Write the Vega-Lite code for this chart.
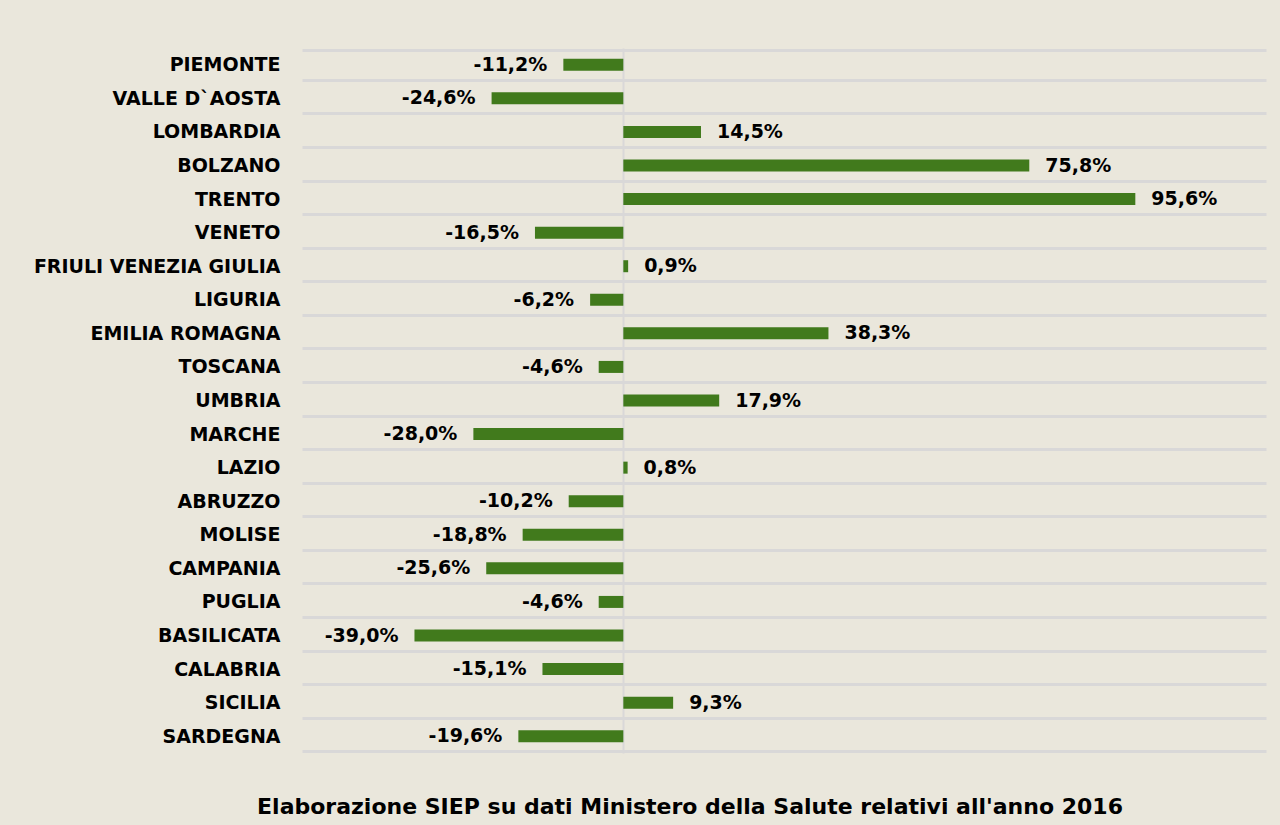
{
  "$schema": "https://vega.github.io/schema/vega-lite/v6.json",
  "width": 964,
  "height": 705,
  "autosize": {"type": "none"},
  "padding": {"left": 302, "top": 48, "right": 14, "bottom": 72},
  "background": "#EAE7DC",
  "config": {
    "view": {"stroke": null},
    "font": "DejaVu Sans",
    "locale": {"number": {"decimal": ",", "thousands": ".", "grouping": [3], "currency": ["", "%"], "minus": "-"}}
  },
  "title": {
    "text": "Elaborazione SIEP su dati Ministero della Salute relativi all'anno 2016",
    "orient": "bottom",
    "anchor": "middle",
    "dx": -94,
    "offset": 44,
    "font": "DejaVu Sans",
    "fontSize": 22,
    "fontWeight": "bold",
    "color": "#000000"
  },
  "data": {
    "values": [
      {"region": "PIEMONTE", "value": -11.2},
      {"region": "VALLE D`AOSTA", "value": -24.6},
      {"region": "LOMBARDIA", "value": 14.5},
      {"region": "BOLZANO", "value": 75.8},
      {"region": "TRENTO", "value": 95.6},
      {"region": "VENETO", "value": -16.5},
      {"region": "FRIULI VENEZIA GIULIA", "value": 0.9},
      {"region": "LIGURIA", "value": -6.2},
      {"region": "EMILIA ROMAGNA", "value": 38.3},
      {"region": "TOSCANA", "value": -4.6},
      {"region": "UMBRIA", "value": 17.9},
      {"region": "MARCHE", "value": -28.0},
      {"region": "LAZIO", "value": 0.8},
      {"region": "ABRUZZO", "value": -10.2},
      {"region": "MOLISE", "value": -18.8},
      {"region": "CAMPANIA", "value": -25.6},
      {"region": "PUGLIA", "value": -4.6},
      {"region": "BASILICATA", "value": -39.0},
      {"region": "CALABRIA", "value": -15.1},
      {"region": "SICILIA", "value": 9.3},
      {"region": "SARDEGNA", "value": -19.6}
    ]
  },
  "encoding": {
    "y": {
      "field": "region",
      "type": "nominal",
      "sort": null,
      "title": null,
      "axis": {
        "grid": true,
        "tickBand": "extent",
        "gridColor": "#D9D8D8",
        "gridWidth": 3,
        "ticks": false,
        "domain": false,
        "labelFont": "DejaVu Sans",
        "labelFontSize": 19,
        "labelFontWeight": "bold",
        "labelColor": "#000000",
        "labelPadding": 22,
        "labelLimit": 400
      }
    }
  },
  "layer": [
    {
      "mark": {"type": "bar", "color": "#417A1C", "height": 12},
      "encoding": {
        "x": {
          "field": "value",
          "type": "quantitative",
          "scale": {"domain": [-60, 120], "nice": false, "zero": false},
          "title": null,
          "axis": {
            "values": [0],
            "grid": true,
            "gridColor": "#D9D8D8",
            "gridWidth": 2,
            "labels": false,
            "ticks": false,
            "domain": false
          }
        }
      }
    },
    {
      "transform": [{"filter": "datum.value < 0"}],
      "mark": {"type": "text", "align": "right", "baseline": "middle", "dx": -16, "font": "DejaVu Sans", "fontSize": 19, "fontWeight": "bold", "color": "#000000"},
      "encoding": {
        "x": {"field": "value", "type": "quantitative"},
        "text": {"field": "value", "type": "quantitative", "format": "$.1f"}
      }
    },
    {
      "transform": [{"filter": "datum.value >= 0"}],
      "mark": {"type": "text", "align": "left", "baseline": "middle", "dx": 16, "font": "DejaVu Sans", "fontSize": 19, "fontWeight": "bold", "color": "#000000"},
      "encoding": {
        "x": {"field": "value", "type": "quantitative"},
        "text": {"field": "value", "type": "quantitative", "format": "$.1f"}
      }
    }
  ]
}
